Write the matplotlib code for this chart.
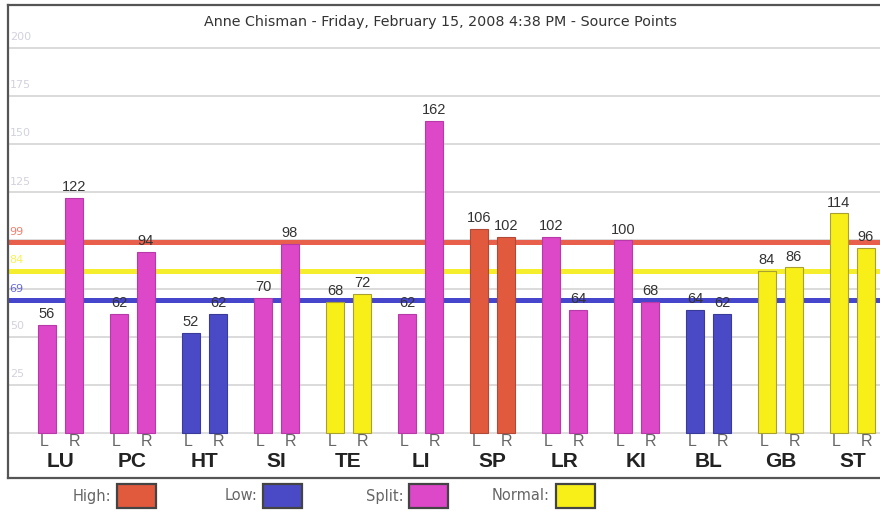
import matplotlib
matplotlib.use("Agg")
import matplotlib.pyplot as plt
from matplotlib.patches import Rectangle

groups = ["LU", "PC", "HT", "SI", "TE", "LI", "SP", "LR", "KI", "BL", "GB", "ST"]
left_vals = [56, 62, 52, 70, 68, 62, 106, 102, 100, 64, 84, 114]
right_vals = [122, 94, 62, 98, 72, 162, 102, 64, 68, 62, 86, 96]
left_cat = ["Split", "Split", "Low", "Split", "Normal", "Split", "High", "Split", "Split", "Low", "Normal", "Normal"]
right_cat = ["Split", "Split", "Low", "Split", "Normal", "Split", "High", "Split", "Split", "Low", "Normal", "Normal"]
ref_values = [99, 84, 69]
ref_names = ["High", "Normal", "Low"]
grid_ticks = [25, 50, 75, 100, 125, 150, 175, 200]
tick_labels_shown = [25, 50, 125, 150, 175, 200]
title = "Anne Chisman - Friday, February 15, 2008 4:38 PM - Source Points"
legend_names = ["High", "Low", "Split", "Normal"]

colors = {"High": "#e25a3e", "Low": "#4a4ac6", "Split": "#dc48c8", "Normal": "#f8ef18"}
edges = {"High": "#b04a38", "Low": "#3a3a9a", "Split": "#b83aa8", "Normal": "#a8a030"}
line_colors = {"High": "#e8604c", "Normal": "#f4ee2c", "Low": "#4646cc"}

W, H = 880, 511
fig = plt.figure(figsize=(W / 100, H / 100), dpi=100)
ax = fig.add_axes([8 / W, (H - 478) / H, 1 - 8 / W, (478 - 5) / H])
ax.set_xlim(-0.729, 11.382)
ax.set_ylim(-23.4, 222.3)

# gridlines
for t in grid_ticks:
    ax.axhline(t, color="#d4d4d4", lw=1.2, zorder=0)
ax.axhline(0, color="#d8d8d8", lw=1.2, zorder=0)
for t in tick_labels_shown:
    ax.text(-0.70, t + 3, str(t), color="#d2d2de", fontsize=8, ha="left", va="bottom",
            family="DejaVu Sans", zorder=1)

# reference lines
for v, n in zip(ref_values, ref_names):
    ax.axhline(v, color=line_colors[n], lw=3.6, zorder=1)
    ax.text(-0.71, v + 3, str(v), color=line_colors[n], fontsize=8, ha="left", va="bottom",
            family="DejaVu Sans", zorder=1, alpha=0.8)

off = 0.1875
bw = 0.26
for i, g in enumerate(groups):
    for x, v, c, side in ((i - off, left_vals[i], left_cat[i], "L"), (i + off, right_vals[i], right_cat[i], "R")):
        ax.bar(x, v, width=bw, color=colors[c], edgecolor=edges[c], lw=0.8, zorder=3)
        ax.text(x, v + 2, str(v), ha="center", va="bottom", fontsize=10.5, color="#333333",
                family="Liberation Sans", zorder=4)
        ax.text(x - (0.04 if side == "L" else -0.01), -0.8, side, ha="center", va="top", fontsize=11.5,
                color="#666666", family="Liberation Sans", zorder=4)
    ax.text(i, -14.8, g, ha="center", va="center", fontsize=15, fontweight="bold",
            color="#222222", family="Liberation Sans", zorder=4)

ax.set_xticks([])
ax.set_yticks([])
for s in ["left", "top", "bottom"]:
    ax.spines[s].set_color("#555555")
    ax.spines[s].set_linewidth(1.6)
ax.spines["right"].set_visible(False)

fig.text(440 / W, 1 - 22 / H, title, ha="center", va="center", fontsize=10.3,
         color="#333333", family="DejaVu Sans")

# legend
box_x = [117, 263, 409, 556]
text_end = [111, 258, 404, 550]
for n, bx, te in zip(legend_names, box_x, text_end):
    fig.add_artist(Rectangle((bx / W, (H - 508) / H), 39 / W, 24 / H, transform=fig.transFigure,
                             facecolor=colors[n], edgecolor="#444444", lw=1.6))
    fig.text(te / W, 1 - 496 / H, n + ":", ha="right", va="center", fontsize=10.5,
             color="#666666", family="DejaVu Sans")

fig.savefig("out.png", dpi=100)
